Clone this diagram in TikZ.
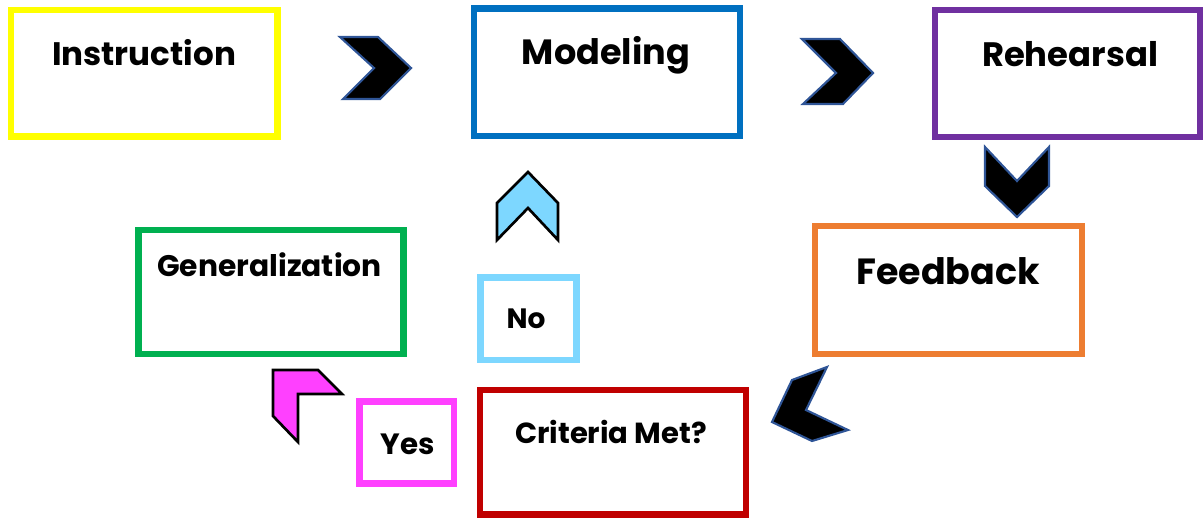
\documentclass[tikz,border=0pt]{standalone}
\usepackage{fontspec}
\setmainfont{Poppins}
\definecolor{cYellow}{HTML}{FFFF00}
\definecolor{cBlue}{HTML}{0070C0}
\definecolor{cPurple}{HTML}{7030A0}
\definecolor{cOrange}{HTML}{ED7D31}
\definecolor{cGreen}{HTML}{00B050}
\definecolor{cRed}{HTML}{C00000}
\definecolor{cSky}{HTML}{7DD7FF}
\definecolor{cMagenta}{HTML}{FF40FF}
\definecolor{cEdge}{HTML}{2F5597}
\tikzset{
  box/.style={draw=#1, line width=4.8pt, inner sep=0pt, fill=white},
  lbl/.style={anchor=base, inner sep=0pt, font=\bfseries\fontsize{#1}{#1}\selectfont},
  chev/.style={fill=black, draw=cEdge, line width=1.6pt, line join=miter},
  chevB/.style={fill=#1, draw=black, line width=2pt, line join=miter}
}
\begin{document}
\begin{tikzpicture}[x=0.75pt,y=-0.75pt]
\useasboundingbox (0,0) rectangle (1204,519);
% boxes
\node[box=cYellow, minimum width=266.5*0.75pt, minimum height=126.5*0.75pt] (instr) at (144.25,73.25) {};
\node[box=cBlue, minimum width=266*0.75pt, minimum height=127.5*0.75pt] (model) at (607,72.25) {};
\node[box=cPurple, minimum width=265*0.75pt, minimum height=127*0.75pt] (rehe) at (1067.5,73.5) {};
\node[box=cOrange, minimum width=267*0.75pt, minimum height=128*0.75pt] (feed) at (948.5,290) {};
\node[box=cGreen, minimum width=265*0.75pt, minimum height=124*0.75pt] (gen) at (271,292) {};
\node[box=cRed, minimum width=266*0.75pt, minimum height=124.5*0.75pt] (crit) at (613,452.25) {};
\node[box=cSky, minimum width=96*0.75pt, minimum height=82.5*0.75pt] (no) at (528.5,318.75) {};
\node[box=cMagenta, minimum width=94.5*0.75pt, minimum height=82*0.75pt] (yes) at (406.75,442.5) {};
% labels
\node[lbl=24.4pt] (tInstr) at (144,65) {Instruction};
\node[lbl=26.3pt] (tModel) at (606,64) {Modeling};
\node[lbl=25.4pt] (tRehe) at (1070,66) {Rehearsal};
\node[lbl=27.3pt] (tFeed) at (948,284) {Feedback};
\node[lbl=22.3pt] (tGen) at (269.5,276) {Generalization};
\node[lbl=21.8pt] (tCrit) at (611,443) {Criteria Met?};
\node[lbl=21pt] (tNo) at (526,328) {No};
\node[lbl=22pt] (tYes) at (407.5,454) {Yes};
% chevrons
\draw[chev] (340,37) -- (378,37) -- (411,68) -- (380,99) -- (343,99) -- (374,68) -- cycle;
\draw[chev] (802,39) -- (840,39) -- (873,73) -- (843,104) -- (803,104) -- (836,73) -- cycle;
\draw[chev] (985,147) -- (1017,181) -- (1049,147) -- (1049,186) -- (1017,217) -- (985,186) -- cycle;
\draw[chev] (827,367) -- (792,380) -- (772,422) -- (812,441) -- (848,430) -- (806,410) -- cycle;
\draw[chevB=cSky] (528,172) -- (558,203) -- (558,240) -- (528,208) -- (497,240) -- (497,203) -- cycle;
\draw[chevB=cMagenta] (273,370) -- (318,370) -- (342,394) -- (298,394) -- (298,442) -- (273,416) -- cycle;
\end{tikzpicture}
\end{document}
